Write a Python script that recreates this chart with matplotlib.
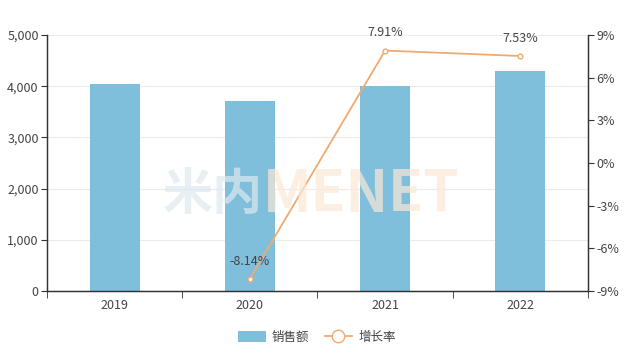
import matplotlib
matplotlib.use("Agg")
import matplotlib.pyplot as plt
from matplotlib.ticker import FuncFormatter, FixedLocator
from matplotlib.lines import Line2D
from matplotlib.patches import Patch

plt.rcParams['font.family'] = ['Noto Sans CJK SC', 'DejaVu Sans']

years = ['2019', '2020', '2021', '2022']
sales = [4040, 3710, 4005, 4300]
growth_years = ['2020', '2021', '2022']
growth = [-8.14, 7.91, 7.53]

bar_color = '#7fbfdc'
line_color = '#f0aa70'
axis_color = '#333333'
text_color = '#444444'

fig = plt.figure(figsize=(6.34, 3.58), dpi=100)
ax = fig.add_axes([0.0741, 0.187, 0.8533, 0.715])
ax2 = ax.twinx()

x = list(range(len(years)))
ax.bar(x, sales, width=0.37, color=bar_color, zorder=2)
ax.set_xlim(-0.5, len(years) - 0.5)
ax.set_ylim(0, 5000)
ax.set_yticks(range(0, 5001, 1000))
ax.yaxis.set_major_formatter(FuncFormatter(lambda v, p: f'{int(v):,}'))
ax.grid(axis='y', color='#ececec', linewidth=0.8, zorder=0)
ax.set_axisbelow(True)

ax.set_xticks(x)
ax.set_xticklabels(years)
ax.xaxis.set_minor_locator(FixedLocator([i + 0.5 for i in range(-1, len(years))]))
ax.tick_params(axis='x', which='major', length=0, pad=6, labelsize=9, labelcolor=text_color)
ax.tick_params(axis='x', which='minor', length=5, color=axis_color)
ax.tick_params(axis='y', length=4, color=axis_color, labelsize=9, labelcolor=text_color, pad=2)

gx = [years.index(y) for y in growth_years]
ax2.plot(gx, growth, color=line_color, linewidth=1.3, marker='o', markersize=3.5,
         markerfacecolor='white', markeredgecolor=line_color, zorder=3)
ax2.set_ylim(-9, 9)
ax2.set_yticks(range(-9, 10, 3))
ax2.yaxis.set_major_formatter(FuncFormatter(lambda v, p: f'{int(v)}%'))
ax2.tick_params(axis='y', length=4, color=axis_color, labelsize=9, labelcolor=text_color, pad=2)

for xi, g in zip(gx, growth):
    ax2.annotate(f'{g:.2f}%', (xi, g), xytext=(0, 8), textcoords='offset points',
                 ha='center', va='bottom', fontsize=9, color=text_color)

for a in (ax, ax2):
    a.spines['top'].set_visible(False)
    for s in ('left', 'right', 'bottom'):
        a.spines[s].set_color(axis_color)
        a.spines[s].set_linewidth(0.9)

# watermark
fig.text(0.257, 0.455, '米内', fontsize=36, fontweight='bold', color='#dde9ef',
         alpha=0.7, ha='left', va='center', zorder=0)
fig.text(0.415, 0.455, 'MENET', fontsize=41, fontweight='bold', color='#fde8d6',
         alpha=0.7, ha='left', va='center', zorder=0)

handles = [Patch(facecolor=bar_color, edgecolor='none'),
           Line2D([0], [0], color=line_color, linewidth=1.3, marker='o', markersize=9,
                  markerfacecolor='white', markeredgecolor=line_color)]
fig.legend(handles, ['销售额', '增长率'], loc='center', bbox_to_anchor=(0.5, 0.057),
           ncol=2, frameon=False, fontsize=9, handlelength=2.2, handleheight=1.0,
           columnspacing=1.2, handletextpad=0.5, labelcolor=text_color)

fig.savefig('out.png', dpi=100)
